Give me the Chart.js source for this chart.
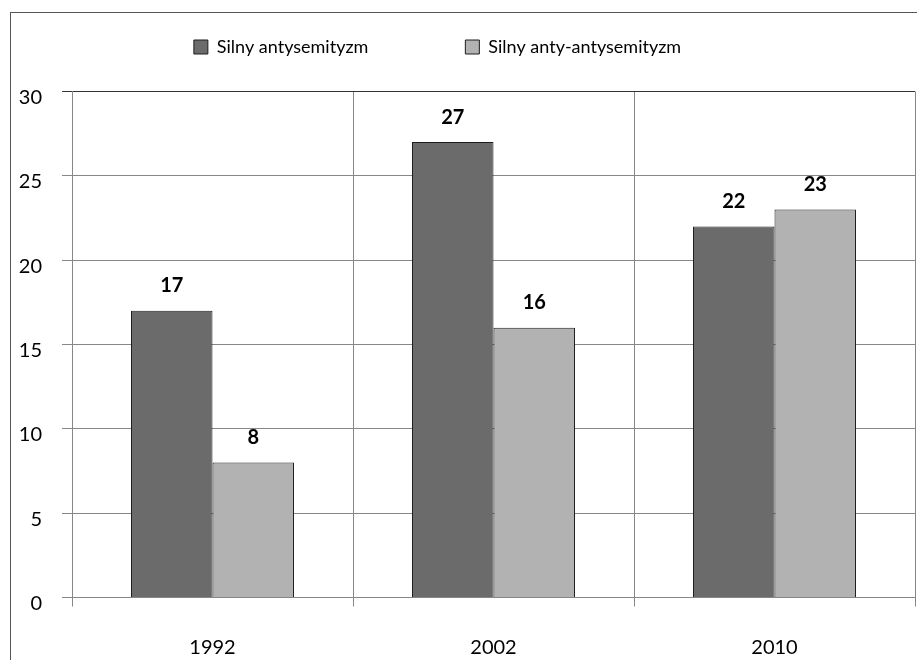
<!DOCTYPE html>
<html>
<head>
<meta charset="utf-8">
<script src="https://cdn.jsdelivr.net/npm/chart.js@4.4.1/dist/chart.umd.min.js"></script>
<style>
  html, body { margin: 0; padding: 0; background: #fff; overflow: hidden; }
  #ramka { position: absolute; left: 10px; top: 12px; width: 1000px; height: 1000px;
           border-left: 1px solid #555; border-top: 1px solid #555; }
  #wrap { position: absolute; left: 0; top: 0; width: 917px; height: 660px; }
</style>
</head>
<body>
<div id="ramka"></div>
<div id="wrap"><canvas id="wykres"></canvas></div>
<script>
const lata = ["1992", "2002", "2010"];
const antysemityzm = [17, 27, 22];
const antyAntysemityzm = [8, 16, 23];
const yTicks = [0, 5, 10, 15, 20, 25, 30];

const FONT = "Lato, 'Open Sans', sans-serif";

// etykiety nad słupkami
const etykiety = {
  id: "etykiety",
  afterDatasetsDraw(chart) {
    const ctx = chart.ctx;
    ctx.save();
    ctx.font = "bold 20px " + FONT;
    ctx.fillStyle = "#000";
    ctx.textAlign = "center";
    ctx.textBaseline = "middle";
    chart.data.datasets.forEach((ds, i) => {
      chart.getDatasetMeta(i).data.forEach((bar, j) => {
        ctx.fillText(ds.data[j], bar.x, bar.y - 25);
      });
    });
    ctx.restore();
  }
};

// legenda: wysokość i położenie jak w oryginale
const legenda = {
  id: "legenda",
  beforeInit(chart) {
    const fit = chart.legend.fit;
    chart.legend.fit = function () {
      fit.call(this);
      this.height = 91.5;
    };
  },
  afterLayout(chart) {
    const l = chart.legend;
    l.top = 38 - l.options.labels.padding;
    l.left -= 20;
    l.right -= 20;
  }
};

new Chart(document.getElementById("wykres").getContext("2d"), {
  type: "bar",
  data: {
    labels: lata,
    datasets: [{
      label: "Silny antysemityzm",
      data: antysemityzm,
      backgroundColor: "#6b6b6b",
      borderColor: "#1e1e1e",
      borderWidth: 1
    }, {
      label: "Silny anty-antysemityzm",
      data: antyAntysemityzm,
      backgroundColor: "#b2b2b2",
      borderColor: "#1e1e1e",
      borderWidth: 1
    }]
  },
  options: {
    responsive: true,
    maintainAspectRatio: false,
    animation: false,
    events: [],
    layout: { padding: { left: 0, right: 2, top: 0, bottom: 0 } },
    datasets: { bar: { categoryPercentage: 0.58, barPercentage: 1 } },
    plugins: {
      tooltip: { enabled: false },
      legend: {
        position: "top",
        labels: {
          color: "#000",
          font: { family: FONT, size: 18 },
          boxWidth: 14,
          boxHeight: 14,
          padding: 97
        }
      }
    },
    scales: {
      x: {
        grid: { color: "#878787", lineWidth: 1, tickLength: 9, offset: true },
        border: { color: "#878787" },
        ticks: { color: "#000", font: { family: FONT, size: 20 }, padding: 29 },
        afterFit(s) { s.height = 62.5; }
      },
      y: {
        min: 0,
        max: 30,
        afterBuildTicks(s) { s.ticks = yTicks.map(v => ({ value: v })); },
        grid: {
          color: c => (c.tick && c.tick.value === 30 ? "#333" : "#878787"),
          lineWidth: 1,
          tickLength: 10
        },
        border: { color: "#878787" },
        ticks: { color: "#000", font: { family: FONT, size: 20 }, padding: 20, labelOffset: 6 },
        afterFit(s) { s.width = 72; }
      }
    }
  },
  plugins: [etykiety, legenda]
});
</script>
</body>
</html>
